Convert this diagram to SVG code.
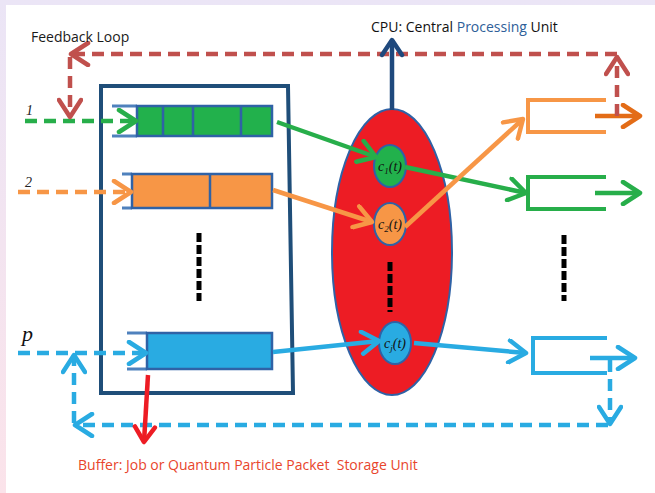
<svg xmlns="http://www.w3.org/2000/svg" width="655" height="493" viewBox="0 0 655 493">
<defs>
<linearGradient id="edge" x1="0" y1="0" x2="0" y2="1">
<stop offset="0" stop-color="#ebe5f6"/>
<stop offset="1" stop-color="#fbe3ea"/>
</linearGradient>
<marker id="aG" markerUnits="userSpaceOnUse" viewBox="0 0 26 26" markerWidth="26" markerHeight="26" refX="21" refY="13" orient="auto"><path d="M4,2 L21,13 L4,24" fill="none" stroke="#27ae4a" stroke-width="4.5" stroke-linecap="round" stroke-linejoin="round"/></marker>
<marker id="aO" markerUnits="userSpaceOnUse" viewBox="0 0 26 26" markerWidth="26" markerHeight="26" refX="21" refY="13" orient="auto"><path d="M4,2 L21,13 L4,24" fill="none" stroke="#f79646" stroke-width="4.5" stroke-linecap="round" stroke-linejoin="round"/></marker>
<marker id="aD" markerUnits="userSpaceOnUse" viewBox="0 0 26 26" markerWidth="26" markerHeight="26" refX="21" refY="13" orient="auto"><path d="M4,2 L21,13 L4,24" fill="none" stroke="#e36c17" stroke-width="4.5" stroke-linecap="round" stroke-linejoin="round"/></marker>
<marker id="aC" markerUnits="userSpaceOnUse" viewBox="0 0 26 26" markerWidth="26" markerHeight="26" refX="21" refY="13" orient="auto"><path d="M4,2 L21,13 L4,24" fill="none" stroke="#29abe2" stroke-width="4.5" stroke-linecap="round" stroke-linejoin="round"/></marker>
<marker id="aR" markerUnits="userSpaceOnUse" viewBox="0 0 26 26" markerWidth="26" markerHeight="26" refX="21" refY="13" orient="auto"><path d="M4,2 L21,13 L4,24" fill="none" stroke="#c0504d" stroke-width="4.5" stroke-linecap="round" stroke-linejoin="round"/></marker>
<marker id="aN" markerUnits="userSpaceOnUse" viewBox="0 0 26 26" markerWidth="26" markerHeight="26" refX="21" refY="13" orient="auto"><path d="M6,3 L21,13 L6,23" fill="none" stroke="#1f497d" stroke-width="4.5" stroke-linecap="round" stroke-linejoin="round"/></marker>
<marker id="aB" markerUnits="userSpaceOnUse" viewBox="0 0 26 26" markerWidth="26" markerHeight="26" refX="21" refY="13" orient="auto"><path d="M6,3 L21,13 L6,23" fill="none" stroke="#ed1c24" stroke-width="4.5" stroke-linecap="round" stroke-linejoin="round"/></marker>
</defs>
<style>
.lbl{font-family:"Open Sans","Liberation Sans",sans-serif;font-size:14px}
.math{font-family:"Liberation Serif","DejaVu Serif",serif;font-style:italic}
.ln{fill:none;stroke-width:4.5;stroke-linecap:butt}
.dash{stroke-dasharray:12 7}
.g{stroke:#27ae4a}.o{stroke:#f79646}.c{stroke:#29abe2}.r{stroke:#c0504d}
.brk{fill:none;stroke:#4f81bd;stroke-width:3}
.cell{stroke:#2f62a6;stroke-width:2.5}
.vd{fill:none;stroke:#000;stroke-width:5;stroke-dasharray:9 3}
.out{fill:none;stroke-width:4}
.node{stroke:#2f62a6;stroke-width:2}
</style>
<rect x="0" y="0" width="655" height="493" fill="url(#edge)"/>
<rect x="6" y="5" width="649" height="488" fill="#ffffff"/>

<g id="buffer-box">
<path d="M101,86 L288,86 L293,393 L101,393 Z" fill="none" stroke="#1f4e79" stroke-width="4"/>
<path class="vd" d="M199,233 V301"/>
</g>

<g id="cpu">
<ellipse cx="392" cy="252" rx="60" ry="143" fill="#ed1c24" stroke="#2f62a6" stroke-width="2"/>
<path class="vd" d="M390,262 V312"/>
</g>

<g id="queue-1">
<path class="brk" d="M137,106 H112 M137,136 H112"/>
<rect x="137" y="106" width="135" height="30" fill="#22b14c" class="cell"/>
<path class="cell" d="M163,106 V136 M193,106 V136 M241,106 V136"/>
</g>
<g id="queue-2">
<path class="brk" d="M132,174 H122 M132,208 H122"/>
<rect x="132" y="174" width="140" height="34" fill="#f79646" class="cell"/>
<path class="cell" d="M210,174 V208"/>
</g>
<g id="queue-p">
<path class="brk" d="M147,333 H127 M147,369 H127"/>
<rect x="147" y="333" width="125" height="36" fill="#29abe2" class="cell"/>
</g>

<g id="c1">
<ellipse cx="390" cy="166" rx="16" ry="21" fill="#22b14c" class="node"/>
<text class="math" x="390" y="171" font-size="14" text-anchor="middle" fill="#111">c<tspan font-size="9" dy="3">1</tspan><tspan dy="-3">(t)</tspan></text>
</g>
<g id="c2">
<ellipse cx="390" cy="224" rx="16" ry="21" fill="#f79646" class="node"/>
<text class="math" x="390" y="229" font-size="14" text-anchor="middle" fill="#111">c<tspan font-size="9" dy="3">2</tspan><tspan dy="-3">(t)</tspan></text>
</g>
<g id="cj">
<ellipse cx="395" cy="343" rx="16" ry="21" fill="#29abe2" class="node"/>
<text class="math" x="395" y="348" font-size="14" text-anchor="middle" fill="#111">c<tspan font-size="9" dy="3">j</tspan><tspan dy="-3">(t)</tspan></text>
</g>

<g id="out-1">
<path class="out" stroke="#f79646" d="M606,100 H528 V132 H606"/>
</g>
<g id="out-2">
<path class="out" stroke="#27ae4a" d="M606,177 H528 V209 H606"/>
</g>
<g id="out-p">
<path class="out" stroke="#29abe2" d="M607,338 H533 V373 H607"/>
</g>
<path class="vd" d="M564,235 V301"/>

<g id="connectors">
<path class="ln dash g" d="M25,121 H136" marker-end="url(#aG)"/>
<path class="ln dash o" d="M18,192 H131" marker-end="url(#aO)"/>
<path class="ln dash c" d="M18,353 H146" marker-end="url(#aC)"/>
<path class="ln g" d="M277,122 L376,157" marker-end="url(#aG)"/>
<path class="ln o" d="M273,190 L372,222" marker-end="url(#aO)"/>
<path class="ln c" d="M273,352 L379,341" marker-end="url(#aC)"/>
<path class="ln g" d="M405,167 L526,193" marker-end="url(#aG)"/>
<path class="ln o" d="M405,227 L523,119" marker-end="url(#aO)"/>
<path class="ln c" d="M414,343 L526,353" marker-end="url(#aC)"/>
<path class="ln" stroke="#e36c17" d="M595,116 H640" marker-end="url(#aD)"/>
<path class="ln g" d="M595,193 H640" marker-end="url(#aG)"/>
<path class="ln c" d="M590,358 H635" marker-end="url(#aC)"/>
<path class="ln dash r" d="M617,116 V57" marker-end="url(#aR)"/>
<path class="ln dash r" d="M617,54 H71" marker-end="url(#aR)"/>
<path class="ln dash r" d="M70,57 V117" marker-end="url(#aR)"/>
<path class="ln dash c" d="M610,360 V424" marker-end="url(#aC)"/>
<path class="ln dash c" d="M608,425 H75" marker-end="url(#aC)"/>
<path class="ln dash c" d="M74,423 V355" marker-end="url(#aC)"/>
<path class="ln" stroke="#1f497d" d="M392,110 V40" marker-end="url(#aN)"/>
<path class="ln" stroke="#ed1c24" d="M148,375 L144,442" marker-end="url(#aB)"/>
</g>

<g id="labels">
<text class="lbl" x="31" y="42" fill="#1a1a1a">Feedback Loop</text>
<text class="lbl" x="371" y="32" fill="#111">CPU: Central <tspan fill="#2e6099">Processing</tspan> Unit</text>
<text class="lbl" x="78" y="470" fill="#e8452c" xml:space="preserve">Buffer: Job or Quantum Particle Packet  Storage Unit</text>
<text class="math" x="26" y="115" font-size="14" fill="#222">1</text>
<text class="math" x="25" y="187" font-size="14" fill="#222">2</text>
<text class="math" x="22" y="341" font-size="22" fill="#111">p</text>
</g>
</svg>
